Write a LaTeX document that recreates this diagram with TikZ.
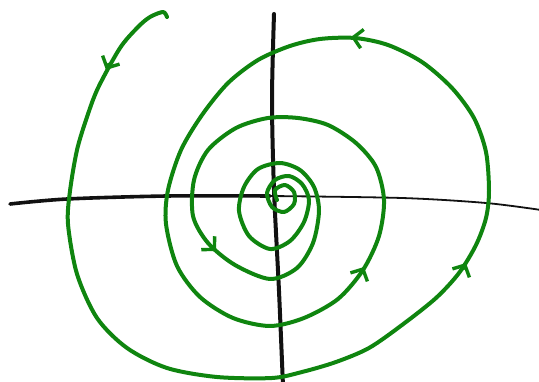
\documentclass[tikz,border=0pt]{standalone}
\usepackage{xcolor}
\usepackage{tikz}
\usetikzlibrary{arrows.meta}
\definecolor{orbitgreen}{HTML}{0F850F}
\definecolor{axisblack}{HTML}{111111}

\begin{document}
\begin{tikzpicture}[x=1pt,y=-1pt,
    orbit/.style={orbitgreen,line width=4pt,line cap=round,line join=round},
    axisline/.style={axisblack,line cap=round},
    barb/.style={orbitgreen,line width=3.4pt,line cap=round,
                 -{Straight Barb[length=9pt,width=19pt]}}]
  \useasboundingbox (0,0) rectangle (539,382);
  \draw[axisline,line width=3.6pt] plot[smooth] coordinates {(10,204) (67,199) (167,196) (270,196)};
  \draw[axisline,line width=1.8pt] plot[smooth] coordinates {(270,196) (402,198) (486,203) (541,210)};
  \draw[axisline,line width=4pt] plot[smooth] coordinates {(274,14) (272,100) (274,190) (279,291) (283,386)};
  \draw[orbit] plot[smooth] coordinates {
      (167,17) (163,12) (150,17) (138,27) (120,48) (98,88) (87,117) (77,150)
      (70,191) (68,224) (77,274) (97,318) (127,348) (167,368) (217,377)
      (272,378) (302,372) (336,362) (369,348) (402,325) (436,298) (459,273)
      (476,245) (486,218) (489,191) (486,152) (474,118) (452,88) (422,62)
      (388,45) (355,38) (320,39) (290,46) (258,60) (228,83) (202,115)
      (181,150) (168,190) (166,224) (177,266) (200,297) (233,318) (270,326)
      (304,318) (338,299) (363,270) (379,236) (384,200) (376,167) (356,143)
      (328,125) (298,118) (268,118) (236,128) (208,150) (194,180) (193,216)
      (208,243) (235,265) (270,279) (297,268) (313,243) (319,211) (314,187)
      (300,170) (280,163) (258,169) (244,187) (239,211) (249,236)
      (270,249) (290,241) (304,222) (309,200) (302,184) (289,176) (275,180)
      (267,193) (272,207) (284,212) (294,204) (294,192) (285,185) (275,190)
      (277,200)};
  \draw[barb] (109,64) -- (106,70);
  \draw[barb] (357,38) -- (351,37);
  \draw[barb] (211,246) -- (216,251);
  \draw[barb] (361,273) -- (364,267);
  \draw[barb] (463,269) -- (466,263);
\end{tikzpicture}
\end{document}
